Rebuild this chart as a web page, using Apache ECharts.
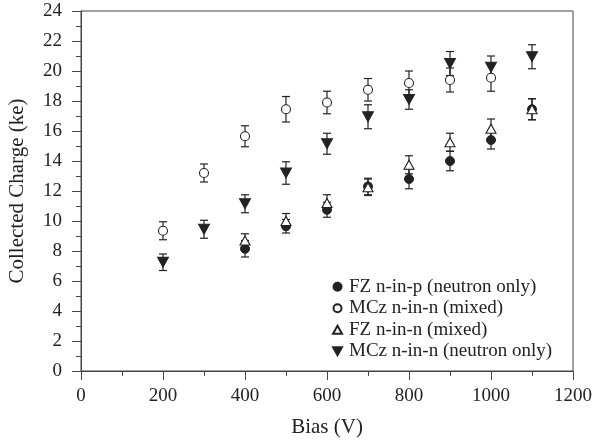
<!DOCTYPE html>
<html>
<head>
<meta charset="utf-8">
<script src="https://cdn.jsdelivr.net/npm/echarts@6/dist/echarts.min.js"></script>
<style>
  html, body { margin: 0; padding: 0; background: #fff; }
  #chart { width: 594px; height: 442px; }
</style>
</head>
<body>
<div id="chart"></div>
<script>
// values
var fzpX = [400, 500, 600, 700, 800, 900, 1000, 1100];
var fzpY = [8.15, 9.65, 10.75, 12.3, 12.8, 14.0, 15.4, 17.45];
var fzpErr = [0.55, 0.45, 0.5, 0.55, 0.65, 0.65, 0.6, 0.7];

var mczMixX = [200, 300, 400, 500, 600, 700, 800, 900, 1000];
var mczMixY = [9.35, 13.2, 15.65, 17.45, 17.9, 18.75, 19.2, 19.4, 19.55];
var mczMixErr = [0.6, 0.6, 0.7, 0.85, 0.75, 0.75, 0.8, 0.8, 0.9];

var fznMixX = [400, 500, 600, 700, 800, 900, 1000, 1100];
var fznMixY = [8.7, 10.0, 11.2, 12.25, 13.75, 15.25, 16.15, 17.45];
var fznMixErr = [0.45, 0.5, 0.55, 0.55, 0.6, 0.6, 0.65, 0.7];

var mczNeuX = [200, 300, 400, 500, 600, 700, 800, 900, 1000, 1100];
var mczNeuY = [7.25, 9.45, 11.15, 13.2, 15.15, 16.95, 18.1, 20.5, 20.25, 20.95];
var mczNeuErr = [0.55, 0.6, 0.6, 0.75, 0.7, 0.8, 0.65, 0.8, 0.75, 0.8];

var names = [
  'FZ n-in-p (neutron only)',
  'MCz n-in-n (mixed)',
  'FZ n-in-n (mixed)',
  'MCz n-in-n (neutron only)'
];

var font = "'Liberation Serif', 'DejaVu Serif', serif";
var ink = '#222';
var downTri = 'path://M0,0 L10,0 L5,9 Z';

function pts(xs, ys) {
  return xs.map(function (x, i) { return [x, ys[i]]; });
}
function errPts(xs, ys, es) {
  return xs.map(function (x, i) { return [x, ys[i] - es[i], ys[i] + es[i]]; });
}

function errorSeries(xs, ys, es) {
  return {
    type: 'custom',
    silent: true,
    z: 1,
    data: errPts(xs, ys, es),
    renderItem: function (params, api) {
      var lo = api.coord([api.value(0), api.value(1)]);
      var hi = api.coord([api.value(0), api.value(2)]);
      var w = 4;
      var st = { stroke: ink, lineWidth: 1.2 };
      return {
        type: 'group',
        children: [
          { type: 'line', shape: { x1: lo[0], y1: lo[1], x2: hi[0], y2: hi[1] }, style: st },
          { type: 'line', shape: { x1: lo[0] - w, y1: lo[1], x2: lo[0] + w, y2: lo[1] }, style: st },
          { type: 'line', shape: { x1: hi[0] - w, y1: hi[1], x2: hi[0] + w, y2: hi[1] }, style: st }
        ]
      };
    }
  };
}

var filled = { color: ink, borderColor: ink, borderWidth: 1, opacity: 1 };
var open = { color: '#fff', borderColor: ink, borderWidth: 1.1, opacity: 1 };

var chart = echarts.init(document.getElementById('chart'));
chart.setOption({
  animation: false,
  backgroundColor: '#fff',
  textStyle: { fontFamily: font, color: ink },
  grid: {
    left: 81, right: 21, top: 11, bottom: 71,
    outerBoundsMode: 'none', containLabel: false,
    show: true, borderColor: '#444', borderWidth: 1
  },
  legend: {
    data: names,
    orient: 'vertical',
    left: 327,
    top: 272,
    itemWidth: 9,
    itemHeight: 8,
    itemGap: 2,
    textStyle: { fontFamily: font, fontSize: 19, lineHeight: 19.5, color: ink, padding: [0, 0, 0, 2] }
  },
  xAxis: {
    type: 'value',
    min: 0, max: 1200, interval: 200,
    name: 'Bias (V)',
    nameLocation: 'middle',
    nameGap: 46,
    nameTextStyle: { fontFamily: font, fontSize: 21, color: ink },
    splitLine: { show: false },
    axisLine: { onZero: false, lineStyle: { color: '#444' } },
    axisTick: { inside: false, length: 9, lineStyle: { color: '#444' } },
    minorTick: { show: true, splitNumber: 2, length: 5, lineStyle: { color: '#444' } },
    axisLabel: { margin: 16, fontFamily: font, fontSize: 19, color: ink, formatter: function (v) { return String(v); } }
  },
  yAxis: {
    type: 'value',
    min: 0, max: 24, interval: 2,
    name: 'Collected Charge (ke)',
    nameLocation: 'middle',
    nameGap: 53,
    nameTextStyle: { fontFamily: font, fontSize: 21, color: ink },
    splitLine: { show: false },
    axisLine: { show: true, lineStyle: { color: '#444' } },
    axisTick: { inside: false, length: 9, lineStyle: { color: '#444' } },
    minorTick: { show: true, splitNumber: 2, length: 5, lineStyle: { color: '#444' } },
    axisLabel: { margin: 19, fontFamily: font, fontSize: 19, color: ink }
  },
  series: [
    errorSeries(fzpX, fzpY, fzpErr),
    errorSeries(mczMixX, mczMixY, mczMixErr),
    errorSeries(fznMixX, fznMixY, fznMixErr),
    errorSeries(mczNeuX, mczNeuY, mczNeuErr),
    { name: names[0], type: 'scatter', z: 3, symbol: 'circle', symbolSize: 9,
      itemStyle: filled, data: pts(fzpX, fzpY) },
    { name: names[1], type: 'scatter', z: 3, symbol: 'circle', symbolSize: 9,
      itemStyle: open, data: pts(mczMixX, mczMixY) },
    { name: names[2], type: 'scatter', z: 3, symbol: 'triangle', symbolSize: [10, 9],
      itemStyle: open, data: pts(fznMixX, fznMixY) },
    { name: names[3], type: 'scatter', z: 3, symbol: downTri, symbolSize: [11, 10],
      itemStyle: filled, data: pts(mczNeuX, mczNeuY) }
  ]
});
</script>
</body>
</html>
